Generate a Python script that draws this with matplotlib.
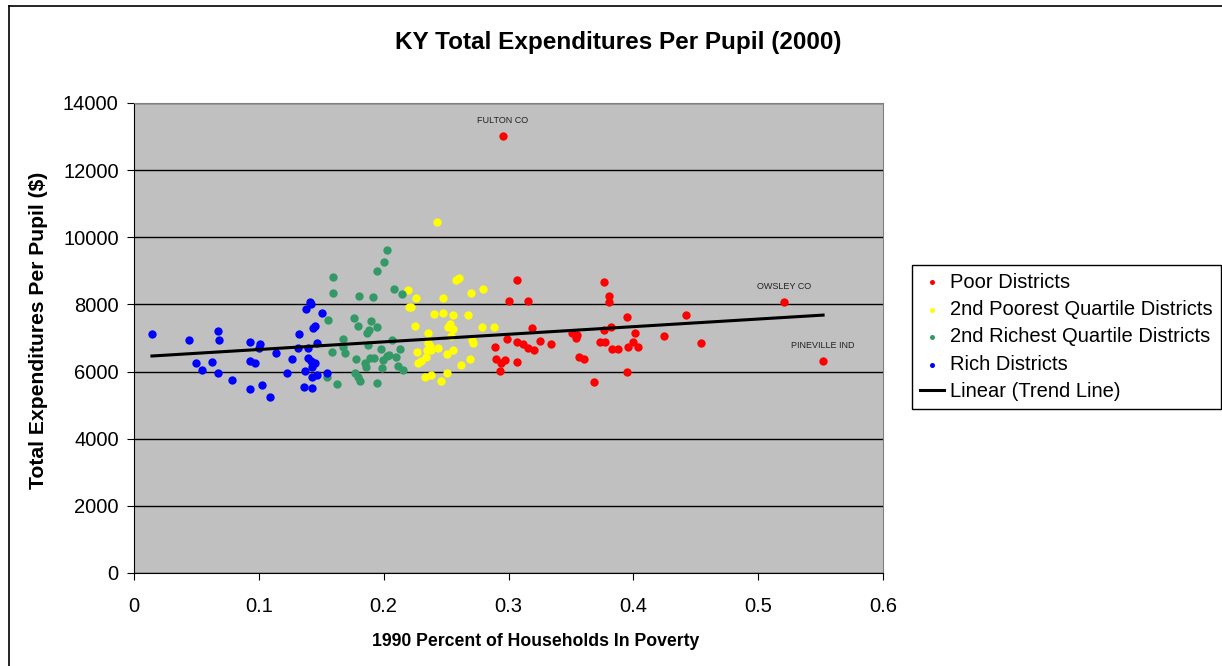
import numpy as np
import matplotlib
matplotlib.use("Agg")
import matplotlib.pyplot as plt
from matplotlib.lines import Line2D

plt.rcParams['font.family'] = ['Liberation Sans', 'DejaVu Sans']

# Poverty rate (x) and expenditure per pupil (y)
rich_x = [0.0144, 0.0441, 0.0673, 0.0681, 0.0497, 0.0545, 0.0625, 0.0673, 0.0785, 0.0929,
          0.1009, 0.1001, 0.0929, 0.0969, 0.0929, 0.1025, 0.1089, 0.1138, 0.1226, 0.1266,
          0.1314, 0.1322, 0.1362, 0.1370, 0.1378, 0.1410, 0.1418, 0.1394, 0.1394, 0.1418,
          0.1426, 0.1426, 0.1426, 0.1434, 0.1450, 0.1450, 0.1466, 0.1466, 0.1506, 0.1546]
rich_y = [7120, 6941, 7209, 6950, 6256, 6047, 6286, 5958, 5750, 6881,
          6822, 6703, 6316, 6256, 5481, 5601, 5243, 6554, 5958, 6375,
          6703, 7120, 5541, 6018, 7865, 8073, 8013, 6703, 6405, 6316,
          6137, 5839, 5511, 7299, 7358, 6256, 6852, 5898, 7745, 5958]

rich2_x = [0.2027, 0.2003, 0.1947, 0.1594, 0.1594, 0.1802, 0.1915, 0.2083, 0.2147, 0.1554,
           0.1762, 0.1899, 0.1794, 0.1947, 0.1883, 0.1867, 0.1674, 0.2067, 0.1674, 0.1875,
           0.1586, 0.1690, 0.1979, 0.2131, 0.1778, 0.1891, 0.1923, 0.2027, 0.2043, 0.2099,
           0.1995, 0.1851, 0.1859, 0.1987, 0.2115, 0.2155, 0.1770, 0.1794, 0.1810, 0.1546,
           0.1626, 0.1947]
rich2_y = [9622, 9265, 8997, 8818, 8341, 8252, 8222, 8460, 8311, 7537,
           7596, 7507, 7358, 7328, 7239, 7150, 6971, 6941, 6733, 6792,
           6584, 6554, 6673, 6673, 6375, 6405, 6405, 6464, 6494, 6435,
           6345, 6256, 6137, 6107, 6167, 6047, 5958, 5839, 5720, 5839,
           5630, 5660]

poor2_x = [0.2427, 0.2579, 0.2604, 0.2195, 0.2259, 0.2700, 0.2796, 0.2475, 0.2203, 0.2219,
           0.2403, 0.2475, 0.2555, 0.2676, 0.2251, 0.2515, 0.2531, 0.2555, 0.2788, 0.2884,
           0.2355, 0.2539, 0.2708, 0.2716, 0.2355, 0.2371, 0.2347, 0.2379, 0.2435, 0.2555,
           0.2507, 0.2267, 0.2339, 0.2692, 0.2299, 0.2275, 0.2620, 0.2507, 0.2331, 0.2379,
           0.2459]
poor2_y = [10456, 8728, 8788, 8431, 8192, 8341, 8460, 8192, 7924, 7924,
           7716, 7745, 7686, 7686, 7358, 7328, 7418, 7269, 7328, 7328,
           7150, 7060, 6941, 6852, 6852, 6762, 6643, 6643, 6703, 6643,
           6524, 6584, 6435, 6375, 6316, 6256, 6196, 5958, 5839, 5898,
           5720]

poor_x = [0.2956, 0.3068, 0.3004, 0.3156, 0.3765, 0.3805, 0.3805, 0.3949, 0.4422, 0.3188,
          0.3821, 0.3765, 0.3509, 0.3549, 0.3541, 0.4013, 0.4246, 0.2988, 0.3068, 0.3116,
          0.3156, 0.3204, 0.3252, 0.3341, 0.2892, 0.3733, 0.3773, 0.3997, 0.3957, 0.3829,
          0.3877, 0.4037, 0.4542, 0.3565, 0.3605, 0.2900, 0.2940, 0.2972, 0.3068, 0.2932,
          0.3685, 0.3949, 0.5207, 0.5520]
poor_y = [13018, 8728, 8103, 8103, 8669, 8252, 8073, 7626, 7686, 7299,
          7328, 7239, 7150, 7090, 7001, 7150, 7060, 6971, 6881, 6822,
          6703, 6643, 6911, 6822, 6733, 6881, 6881, 6881, 6733, 6673,
          6673, 6733, 6852, 6435, 6375, 6375, 6256, 6345, 6286, 6018,
          5690, 5988, 8073, 6316]

# labelled outliers (index into poor_x / poor_y)
labels = {0: "FULTON CO", 42: "OWSLEY CO", 43: "PINEVILLE IND"}

# Excel linear trend line
trend_slope = 2267
trend_intercept = 6431

fig = plt.figure(figsize=(12.22, 6.66), dpi=100)
ax = fig.add_axes([134/1222, 1 - 573/666, (883-134)/1222, (573-103)/666])
ax.set_facecolor("#C0C0C0")

ax.scatter(poor_x, poor_y, s=36, color="#FF0000", lw=0, label="Poor Districts", zorder=3)
ax.scatter(poor2_x, poor2_y, s=36, color="#FFFF00", lw=0, label="2nd Poorest Quartile Districts", zorder=3)
ax.scatter(rich2_x, rich2_y, s=36, color="#339966", lw=0, label="2nd Richest Quartile Districts", zorder=3)
ax.scatter(rich_x, rich_y, s=36, color="#0000FF", lw=0, label="Rich Districts", zorder=3)

all_x = np.concatenate([poor_x, poor2_x, rich2_x, rich_x])
tx = np.array([all_x.min(), all_x.max()])
ax.plot(tx, trend_intercept + trend_slope * tx, color="black", lw=2.2, label="Linear (Trend Line)", zorder=4)

for i, name in labels.items():
    ax.annotate(name, (poor_x[i], poor_y[i]), xytext=(0, 11), textcoords="offset points",
                ha="center", va="center", fontsize=6.5, color="#222222")

ax.set_xlim(0, 0.6)
ax.set_ylim(0, 14000)
ax.set_xticks(np.arange(0, 0.61, 0.1))
ax.set_xticklabels(["0", "0.1", "0.2", "0.3", "0.4", "0.5", "0.6"])
ax.set_yticks(np.arange(0, 14001, 2000))
ax.yaxis.grid(True, color="black", lw=1)
ax.set_axisbelow(True)
for s in ax.spines.values():
    s.set_color("#808080")
ax.spines["left"].set_color("black")
ax.spines["bottom"].set_color("black")
ax.tick_params(axis="both", labelsize=14.5, length=5, direction="out", color="black", pad=6)
ax.tick_params(axis="x", pad=12)

# axis titles placed like the Excel chart
fig.text(536/1222, 1 - 642/666, "1990 Percent of Households In Poverty", ha="center", va="center",
         fontsize=12.7, fontweight="bold")
fig.text(39/1222, 1 - 330/666, "Total Expenditures Per Pupil ($)", ha="center", va="center",
         rotation=90, fontsize=15.2, fontweight="bold")
fig.text(618/1222, 1 - 42/666, "KY Total Expenditures Per Pupil (2000)", ha="center", va="center",
         fontsize=17.5, fontweight="bold")

leg = ax.legend(loc="center left", bbox_to_anchor=(912/1222, 1 - 337/666), bbox_transform=fig.transFigure,
                fontsize=14.5, frameon=True, fancybox=False, edgecolor="black", framealpha=1,
                markerscale=0.6, handlelength=1.2, handletextpad=0.3, borderpad=0.4,
                labelspacing=0.42, borderaxespad=0)
leg.get_frame().set_linewidth(1)

# outer chart-area frame
fig.add_artist(Line2D([9/1222, 9/1222], [1 - 6/666, 0], color="black", lw=1.2))
fig.add_artist(Line2D([9/1222, 1], [1 - 6/666, 1 - 6/666], color="black", lw=1.2))

fig.savefig("out.png", dpi=100)
